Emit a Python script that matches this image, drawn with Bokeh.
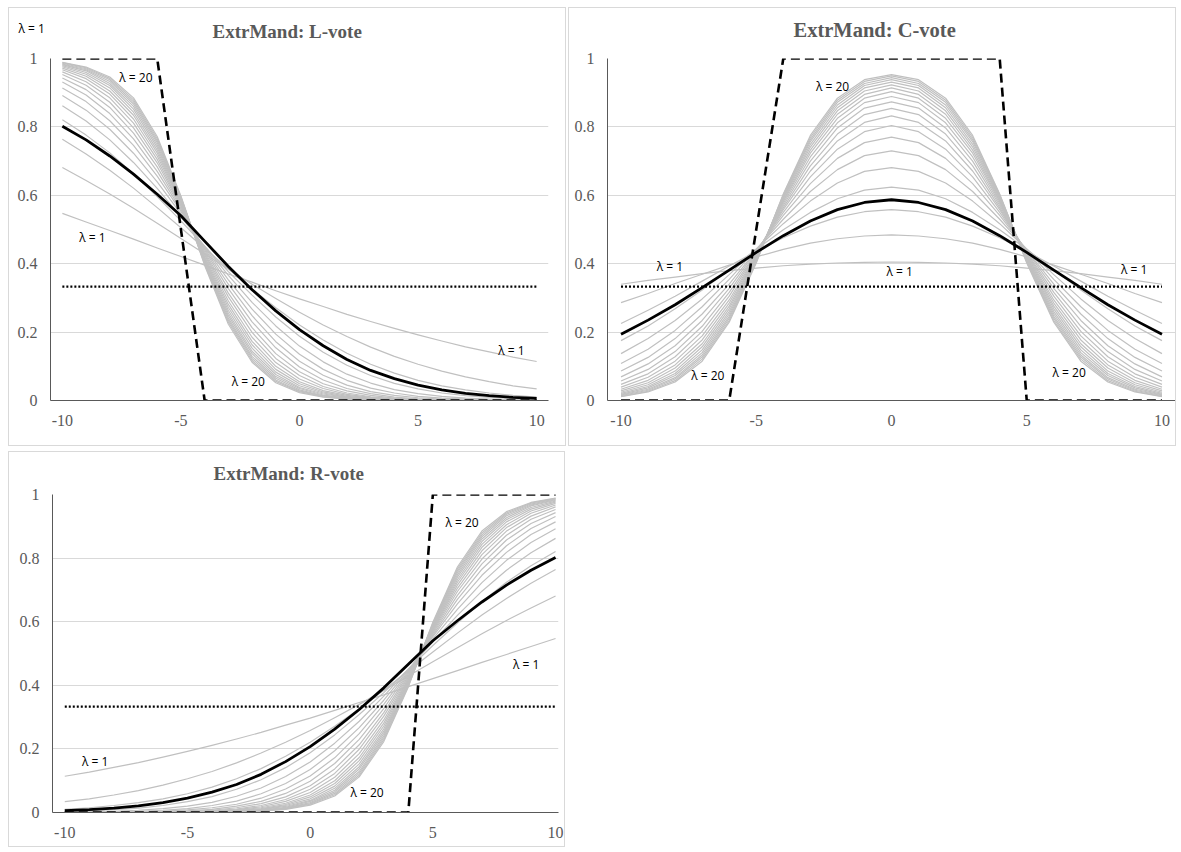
from bokeh.plotting import figure
from bokeh.models import Range1d, FixedTicker, NumeralTickFormatter, Label, Title
from bokeh.layouts import row, column
from bokeh.embed import file_html
from bokeh.resources import INLINE

# ---------------- data ----------------
x_positions = [-10, -9, -8, -7, -6, -5, -4, -3, -2, -1, 0, 1, 2, 3, 4, 5, 6, 7, 8, 9, 10]
lambda_values = list(range(1, 21))
y_ticks = [0, 0.2, 0.4, 0.6, 0.8, 1]
x_ticks = [-10, -5, 0, 5, 10]
x_tick_labels = {-10: "-10", -5: "-5", 0: "0", 5: "5", 10: "10"}

uniform_share = [0.333, 0.333, 0.333, 0.333, 0.333, 0.333, 0.333, 0.333, 0.333, 0.333, 0.333,
                 0.333, 0.333, 0.333, 0.333, 0.333, 0.333, 0.333, 0.333, 0.333, 0.333]

# L-vote, one row per lambda = 1..20
l_vote = [
    [0.547, 0.522, 0.497, 0.472, 0.446, 0.421, 0.396, 0.370, 0.346, 0.321, 0.297, 0.275, 0.252, 0.231, 0.211, 0.192, 0.174, 0.157, 0.142, 0.127, 0.114],
    [0.681, 0.643, 0.604, 0.562, 0.518, 0.474, 0.429, 0.384, 0.340, 0.298, 0.258, 0.221, 0.187, 0.156, 0.129, 0.106, 0.086, 0.069, 0.055, 0.043, 0.034],
    [0.764, 0.721, 0.673, 0.621, 0.564, 0.505, 0.445, 0.385, 0.326, 0.271, 0.221, 0.177, 0.138, 0.106, 0.080, 0.059, 0.043, 0.031, 0.022, 0.015, 0.010],
    [0.821, 0.776, 0.724, 0.663, 0.596, 0.525, 0.451, 0.377, 0.308, 0.244, 0.188, 0.141, 0.103, 0.073, 0.050, 0.034, 0.022, 0.014, 0.009, 0.006, 0.003],
    [0.862, 0.817, 0.762, 0.696, 0.620, 0.537, 0.451, 0.366, 0.287, 0.218, 0.159, 0.113, 0.077, 0.051, 0.032, 0.020, 0.012, 0.007, 0.004, 0.002, 0.001],
    [0.892, 0.849, 0.793, 0.723, 0.639, 0.546, 0.448, 0.353, 0.267, 0.194, 0.135, 0.091, 0.059, 0.036, 0.022, 0.012, 0.007, 0.004, 0.002, 0.001, 0.000],
    [0.914, 0.874, 0.818, 0.746, 0.656, 0.553, 0.444, 0.340, 0.248, 0.172, 0.115, 0.074, 0.045, 0.026, 0.015, 0.008, 0.004, 0.002, 0.001, 0.000, 0.000],
    [0.931, 0.893, 0.839, 0.765, 0.670, 0.558, 0.440, 0.327, 0.230, 0.154, 0.098, 0.060, 0.035, 0.020, 0.010, 0.005, 0.002, 0.001, 0.001, 0.000, 0.000],
    [0.943, 0.909, 0.857, 0.782, 0.683, 0.563, 0.435, 0.314, 0.213, 0.137, 0.084, 0.049, 0.028, 0.015, 0.007, 0.003, 0.002, 0.001, 0.000, 0.000, 0.000],
    [0.953, 0.922, 0.872, 0.797, 0.695, 0.567, 0.430, 0.303, 0.199, 0.123, 0.073, 0.041, 0.022, 0.011, 0.005, 0.002, 0.001, 0.000, 0.000, 0.000, 0.000],
    [0.961, 0.932, 0.885, 0.811, 0.705, 0.571, 0.426, 0.291, 0.185, 0.111, 0.063, 0.035, 0.018, 0.009, 0.004, 0.002, 0.001, 0.000, 0.000, 0.000, 0.000],
    [0.967, 0.941, 0.896, 0.823, 0.715, 0.575, 0.421, 0.281, 0.173, 0.100, 0.055, 0.029, 0.015, 0.007, 0.003, 0.001, 0.000, 0.000, 0.000, 0.000, 0.000],
    [0.972, 0.948, 0.905, 0.834, 0.724, 0.578, 0.417, 0.272, 0.163, 0.091, 0.049, 0.025, 0.012, 0.006, 0.002, 0.001, 0.000, 0.000, 0.000, 0.000, 0.000],
    [0.976, 0.954, 0.914, 0.843, 0.732, 0.581, 0.413, 0.263, 0.153, 0.083, 0.043, 0.022, 0.010, 0.005, 0.002, 0.000, 0.000, 0.000, 0.000, 0.000, 0.000],
    [0.979, 0.959, 0.921, 0.852, 0.740, 0.584, 0.410, 0.255, 0.144, 0.076, 0.038, 0.019, 0.009, 0.004, 0.002, 0.000, 0.000, 0.000, 0.000, 0.000, 0.000],
    [0.982, 0.964, 0.927, 0.860, 0.747, 0.587, 0.406, 0.248, 0.137, 0.070, 0.035, 0.016, 0.007, 0.003, 0.001, 0.000, 0.000, 0.000, 0.000, 0.000, 0.000],
    [0.984, 0.967, 0.933, 0.867, 0.754, 0.590, 0.403, 0.241, 0.129, 0.065, 0.031, 0.014, 0.006, 0.003, 0.001, 0.000, 0.000, 0.000, 0.000, 0.000, 0.000],
    [0.986, 0.970, 0.938, 0.873, 0.760, 0.593, 0.401, 0.235, 0.123, 0.060, 0.028, 0.013, 0.006, 0.002, 0.001, 0.000, 0.000, 0.000, 0.000, 0.000, 0.000],
    [0.988, 0.973, 0.942, 0.879, 0.766, 0.595, 0.398, 0.229, 0.117, 0.056, 0.026, 0.011, 0.005, 0.002, 0.001, 0.000, 0.000, 0.000, 0.000, 0.000, 0.000],
    [0.989, 0.975, 0.946, 0.885, 0.772, 0.598, 0.395, 0.223, 0.112, 0.052, 0.023, 0.010, 0.004, 0.002, 0.001, 0.000, 0.000, 0.000, 0.000, 0.000, 0.000],
]
l_vote_bold = [0.802, 0.762, 0.715, 0.662, 0.603, 0.540, 0.466, 0.392, 0.324, 0.262, 0.207, 0.160, 0.120, 0.088, 0.064, 0.045, 0.031, 0.021, 0.014, 0.009, 0.006]
l_vote_limit = [1, 1, 1, 1, 1, 0.5, 0, 0, 0, 0, 0, 0, 0, 0, 0, 0, 0, 0, 0, 0, 0]

# C-vote, one row per lambda = 1..20
c_vote = [
    [0.340, 0.351, 0.361, 0.371, 0.380, 0.387, 0.394, 0.399, 0.402, 0.404, 0.405, 0.404, 0.402, 0.399, 0.394, 0.387, 0.380, 0.371, 0.361, 0.351, 0.340],
    [0.286, 0.313, 0.342, 0.369, 0.396, 0.420, 0.442, 0.460, 0.473, 0.481, 0.484, 0.481, 0.473, 0.460, 0.442, 0.420, 0.396, 0.369, 0.342, 0.313, 0.286],
    [0.225, 0.264, 0.305, 0.349, 0.393, 0.436, 0.476, 0.510, 0.536, 0.552, 0.558, 0.552, 0.536, 0.510, 0.476, 0.436, 0.393, 0.349, 0.305, 0.264, 0.225],
    [0.175, 0.218, 0.268, 0.323, 0.382, 0.442, 0.499, 0.550, 0.590, 0.615, 0.624, 0.615, 0.590, 0.550, 0.499, 0.442, 0.382, 0.323, 0.268, 0.218, 0.175],
    [0.137, 0.181, 0.234, 0.297, 0.368, 0.443, 0.517, 0.583, 0.636, 0.670, 0.681, 0.670, 0.636, 0.583, 0.517, 0.443, 0.368, 0.297, 0.234, 0.181, 0.137],
    [0.108, 0.150, 0.205, 0.274, 0.354, 0.442, 0.530, 0.611, 0.675, 0.716, 0.730, 0.716, 0.675, 0.611, 0.530, 0.442, 0.354, 0.274, 0.205, 0.150, 0.108],
    [0.086, 0.126, 0.181, 0.253, 0.340, 0.439, 0.541, 0.634, 0.708, 0.754, 0.770, 0.754, 0.708, 0.634, 0.541, 0.439, 0.340, 0.253, 0.181, 0.126, 0.086],
    [0.069, 0.107, 0.160, 0.234, 0.328, 0.437, 0.550, 0.654, 0.735, 0.786, 0.804, 0.786, 0.735, 0.654, 0.550, 0.437, 0.328, 0.234, 0.160, 0.107, 0.069],
    [0.057, 0.091, 0.143, 0.217, 0.316, 0.433, 0.558, 0.671, 0.759, 0.813, 0.832, 0.813, 0.759, 0.671, 0.558, 0.433, 0.316, 0.217, 0.143, 0.091, 0.057],
    [0.047, 0.078, 0.128, 0.202, 0.305, 0.430, 0.564, 0.686, 0.779, 0.836, 0.854, 0.836, 0.779, 0.686, 0.564, 0.430, 0.305, 0.202, 0.128, 0.078, 0.047],
    [0.039, 0.068, 0.115, 0.189, 0.294, 0.427, 0.570, 0.700, 0.797, 0.855, 0.873, 0.855, 0.797, 0.700, 0.570, 0.427, 0.294, 0.189, 0.115, 0.068, 0.039],
    [0.033, 0.059, 0.104, 0.177, 0.285, 0.424, 0.576, 0.712, 0.812, 0.871, 0.889, 0.871, 0.812, 0.712, 0.576, 0.424, 0.285, 0.177, 0.104, 0.059, 0.033],
    [0.028, 0.052, 0.095, 0.166, 0.276, 0.421, 0.581, 0.723, 0.825, 0.884, 0.903, 0.884, 0.825, 0.723, 0.581, 0.421, 0.276, 0.166, 0.095, 0.052, 0.028],
    [0.024, 0.046, 0.086, 0.157, 0.268, 0.418, 0.585, 0.732, 0.837, 0.895, 0.914, 0.895, 0.837, 0.732, 0.585, 0.418, 0.268, 0.157, 0.086, 0.046, 0.024],
    [0.021, 0.041, 0.079, 0.148, 0.260, 0.415, 0.589, 0.741, 0.847, 0.905, 0.923, 0.905, 0.847, 0.741, 0.589, 0.415, 0.260, 0.148, 0.079, 0.041, 0.021],
    [0.018, 0.037, 0.073, 0.140, 0.253, 0.413, 0.592, 0.749, 0.856, 0.914, 0.931, 0.914, 0.856, 0.749, 0.592, 0.413, 0.253, 0.140, 0.073, 0.037, 0.018],
    [0.016, 0.033, 0.067, 0.133, 0.246, 0.410, 0.596, 0.757, 0.864, 0.921, 0.938, 0.921, 0.864, 0.757, 0.596, 0.410, 0.246, 0.133, 0.067, 0.033, 0.016],
    [0.014, 0.030, 0.063, 0.127, 0.240, 0.407, 0.599, 0.763, 0.872, 0.927, 0.944, 0.927, 0.872, 0.763, 0.599, 0.407, 0.240, 0.127, 0.063, 0.030, 0.014],
    [0.012, 0.027, 0.058, 0.121, 0.234, 0.405, 0.602, 0.769, 0.878, 0.933, 0.949, 0.933, 0.878, 0.769, 0.602, 0.405, 0.234, 0.121, 0.058, 0.027, 0.012],
    [0.011, 0.025, 0.054, 0.115, 0.229, 0.402, 0.604, 0.775, 0.884, 0.938, 0.953, 0.938, 0.884, 0.775, 0.604, 0.402, 0.229, 0.115, 0.054, 0.025, 0.011],
]
c_vote_bold = [0.194, 0.235, 0.280, 0.330, 0.381, 0.433, 0.482, 0.525, 0.558, 0.579, 0.587, 0.579, 0.558, 0.525, 0.482, 0.433, 0.381, 0.330, 0.280, 0.235, 0.194]
c_vote_limit = [0, 0, 0, 0, 0, 0.5, 1, 1, 1, 1, 1, 1, 1, 1, 1, 0, 0, 0, 0, 0, 0]

# R-vote, one row per lambda = 1..20
r_vote = [
    [0.114, 0.127, 0.142, 0.157, 0.174, 0.192, 0.211, 0.231, 0.252, 0.275, 0.297, 0.321, 0.346, 0.370, 0.396, 0.421, 0.446, 0.472, 0.497, 0.522, 0.547],
    [0.034, 0.043, 0.055, 0.069, 0.086, 0.106, 0.129, 0.156, 0.187, 0.221, 0.258, 0.298, 0.340, 0.384, 0.429, 0.474, 0.518, 0.562, 0.604, 0.643, 0.681],
    [0.010, 0.015, 0.022, 0.031, 0.043, 0.059, 0.080, 0.106, 0.138, 0.177, 0.221, 0.271, 0.326, 0.385, 0.445, 0.505, 0.564, 0.621, 0.673, 0.721, 0.764],
    [0.003, 0.006, 0.009, 0.014, 0.022, 0.034, 0.050, 0.073, 0.103, 0.141, 0.188, 0.244, 0.308, 0.377, 0.451, 0.525, 0.596, 0.663, 0.724, 0.776, 0.821],
    [0.001, 0.002, 0.004, 0.007, 0.012, 0.020, 0.032, 0.051, 0.077, 0.113, 0.159, 0.218, 0.287, 0.366, 0.451, 0.537, 0.620, 0.696, 0.762, 0.817, 0.862],
    [0.000, 0.001, 0.002, 0.004, 0.007, 0.012, 0.022, 0.036, 0.059, 0.091, 0.135, 0.194, 0.267, 0.353, 0.448, 0.546, 0.639, 0.723, 0.793, 0.849, 0.892],
    [0.000, 0.000, 0.001, 0.002, 0.004, 0.008, 0.015, 0.026, 0.045, 0.074, 0.115, 0.172, 0.248, 0.340, 0.444, 0.553, 0.656, 0.746, 0.818, 0.874, 0.914],
    [0.000, 0.000, 0.001, 0.001, 0.002, 0.005, 0.010, 0.020, 0.035, 0.060, 0.098, 0.154, 0.230, 0.327, 0.440, 0.558, 0.670, 0.765, 0.839, 0.893, 0.931],
    [0.000, 0.000, 0.000, 0.001, 0.002, 0.003, 0.007, 0.015, 0.028, 0.049, 0.084, 0.137, 0.213, 0.314, 0.435, 0.563, 0.683, 0.782, 0.857, 0.909, 0.943],
    [0.000, 0.000, 0.000, 0.000, 0.001, 0.002, 0.005, 0.011, 0.022, 0.041, 0.073, 0.123, 0.199, 0.303, 0.430, 0.567, 0.695, 0.797, 0.872, 0.922, 0.953],
    [0.000, 0.000, 0.000, 0.000, 0.001, 0.002, 0.004, 0.009, 0.018, 0.035, 0.063, 0.111, 0.185, 0.291, 0.426, 0.571, 0.705, 0.811, 0.885, 0.932, 0.961],
    [0.000, 0.000, 0.000, 0.000, 0.000, 0.001, 0.003, 0.007, 0.015, 0.029, 0.055, 0.100, 0.173, 0.281, 0.421, 0.575, 0.715, 0.823, 0.896, 0.941, 0.967],
    [0.000, 0.000, 0.000, 0.000, 0.000, 0.001, 0.002, 0.006, 0.012, 0.025, 0.049, 0.091, 0.163, 0.272, 0.417, 0.578, 0.724, 0.834, 0.905, 0.948, 0.972],
    [0.000, 0.000, 0.000, 0.000, 0.000, 0.000, 0.002, 0.005, 0.010, 0.022, 0.043, 0.083, 0.153, 0.263, 0.413, 0.581, 0.732, 0.843, 0.914, 0.954, 0.976],
    [0.000, 0.000, 0.000, 0.000, 0.000, 0.000, 0.002, 0.004, 0.009, 0.019, 0.038, 0.076, 0.144, 0.255, 0.410, 0.584, 0.740, 0.852, 0.921, 0.959, 0.979],
    [0.000, 0.000, 0.000, 0.000, 0.000, 0.000, 0.001, 0.003, 0.007, 0.016, 0.035, 0.070, 0.137, 0.248, 0.406, 0.587, 0.747, 0.860, 0.927, 0.964, 0.982],
    [0.000, 0.000, 0.000, 0.000, 0.000, 0.000, 0.001, 0.003, 0.006, 0.014, 0.031, 0.065, 0.129, 0.241, 0.403, 0.590, 0.754, 0.867, 0.933, 0.967, 0.984],
    [0.000, 0.000, 0.000, 0.000, 0.000, 0.000, 0.001, 0.002, 0.006, 0.013, 0.028, 0.060, 0.123, 0.235, 0.401, 0.593, 0.760, 0.873, 0.938, 0.970, 0.986],
    [0.000, 0.000, 0.000, 0.000, 0.000, 0.000, 0.001, 0.002, 0.005, 0.011, 0.026, 0.056, 0.117, 0.229, 0.398, 0.595, 0.766, 0.879, 0.942, 0.973, 0.988],
    [0.000, 0.000, 0.000, 0.000, 0.000, 0.000, 0.001, 0.002, 0.004, 0.010, 0.023, 0.052, 0.112, 0.223, 0.395, 0.598, 0.772, 0.885, 0.946, 0.975, 0.989],
]
r_vote_bold = [0.006, 0.009, 0.014, 0.021, 0.031, 0.045, 0.064, 0.088, 0.120, 0.160, 0.207, 0.262, 0.324, 0.392, 0.466, 0.540, 0.603, 0.662, 0.715, 0.762, 0.802]
r_vote_limit = [0, 0, 0, 0, 0, 0, 0, 0, 0, 0, 0, 0, 0, 0, 0, 1, 1, 1, 1, 1, 1]

# in-plot text annotations: (text, x, y) in data coordinates
l_labels = [("λ = 1", -8.73, 0.476), ("λ = 20", -6.9, 0.943),
            ("λ = 20", -2.16, 0.055), ("λ = 1", 8.94, 0.146)]
c_labels = [("λ = 20", -2.18, 0.917), ("λ = 1", -8.19, 0.391), ("λ = 20", -6.79, 0.072),
            ("λ = 1", 0.30, 0.376), ("λ = 1", 8.97, 0.382), ("λ = 20", 6.57, 0.083)]
r_labels = [("λ = 1", -8.76, 0.160), ("λ = 20", 6.19, 0.912), ("λ = 1", 8.80, 0.465),
            ("λ = 20", 2.32, 0.063)]

# ---------------- drawing ----------------
GRAY = "#C0C0C0"
TEXT_GRAY = "#595959"


def make_panel(title, title_offset, title_standoff, title_size, width, height, borders, x_end,
               curves, bold, limit, labels, corner_label=None):
    left, right, top, bottom = borders
    p = figure(width=width, height=height, output_backend="svg", toolbar_location=None,
               x_range=Range1d(-10.5, x_end), y_range=Range1d(0, 1),
               min_border_left=left, min_border_right=right,
               min_border_top=top, min_border_bottom=bottom,
               background_fill_color="white", border_fill_color="white")
    p.styles = {"border": "1px solid #D9D9D9"}
    p.outline_line_color = None

    # title anchored to the top of the frame (zero panel height) and lifted by a negative standoff
    p.title.text = title
    p.title.align = "left"
    p.title.vertical_align = "top"
    p.title.offset = title_offset
    p.title.standoff = title_standoff
    p.title.text_font = "Liberation Serif"
    p.title.text_font_style = "bold"
    p.title.text_font_size = title_size
    p.title.text_color = TEXT_GRAY

    if corner_label is not None:
        p.add_layout(Title(text=corner_label, align="left", offset=-32, standoff=-78,
                           vertical_align="top",
                           text_font="Open Sans", text_font_style="normal",
                           text_font_size="12px", text_color="black"), "above")

    p.xgrid.visible = False
    p.ygrid.ticker = FixedTicker(ticks=y_ticks)
    p.ygrid.grid_line_color = "#D9D9D9"
    p.ygrid.grid_line_width = 1
    p.yaxis.ticker = FixedTicker(ticks=y_ticks)
    p.xaxis.ticker = FixedTicker(ticks=x_ticks)
    p.yaxis.formatter = NumeralTickFormatter(format="0.[0]")
    p.xaxis.major_label_overrides = x_tick_labels
    for ax in (p.xaxis, p.yaxis):
        ax.axis_line_color = "#595959"
        ax.axis_line_width = 1
        ax.major_tick_line_color = None
        ax.minor_tick_line_color = None
        ax.major_tick_out = 0
        ax.major_tick_in = 0
        ax.minor_tick_out = 0
        ax.major_label_text_font = "Liberation Serif"
        ax.major_label_text_font_size = "16px"
        ax.major_label_text_color = TEXT_GRAY
    p.yaxis.major_label_standoff = 13
    p.xaxis.major_label_standoff = 14

    for ys in curves:
        p.line(x_positions, ys, line_color=GRAY, line_width=1.2, line_join="round")
    p.line(x_positions, bold, line_color="black", line_width=2.8, line_join="round")
    p.line(x_positions, uniform_share, line_color="black", line_width=2.2, line_dash="2 2")
    p.line(x_positions, limit, line_color="black", line_width=2.6, line_dash="9 5")

    for txt, lx, ly in labels:
        p.add_layout(Label(x=lx, y=ly, text=txt, text_align="center", text_baseline="middle",
                           text_font="Open Sans", text_font_size="12px", text_color="black"))
    return p


p_l = make_panel("ExtrMand: L-vote", 162, -76, "19px", 558, 439, (41, 19, 50, 47), 10.5,
                 l_vote, l_vote_bold, l_vote_limit, l_labels, corner_label="λ = 1")
p_c = make_panel("ExtrMand: C-vote", 186, -80, "20.5px", 608, 439, (38, 2, 46, 45), 10.5,
                 c_vote, c_vote_bold, c_vote_limit, c_labels)
p_r = make_panel("ExtrMand: R-vote", 161, -64, "19px", 557, 396, (43, 8, 42, 36), 10.12,
                 r_vote, r_vote_bold, r_vote_limit, r_labels)

layout = column(row(p_l, p_c, spacing=2), p_r, spacing=5, margin=(7, 0, 0, 8))

open("out.html", "w").write(file_html(layout, INLINE))
